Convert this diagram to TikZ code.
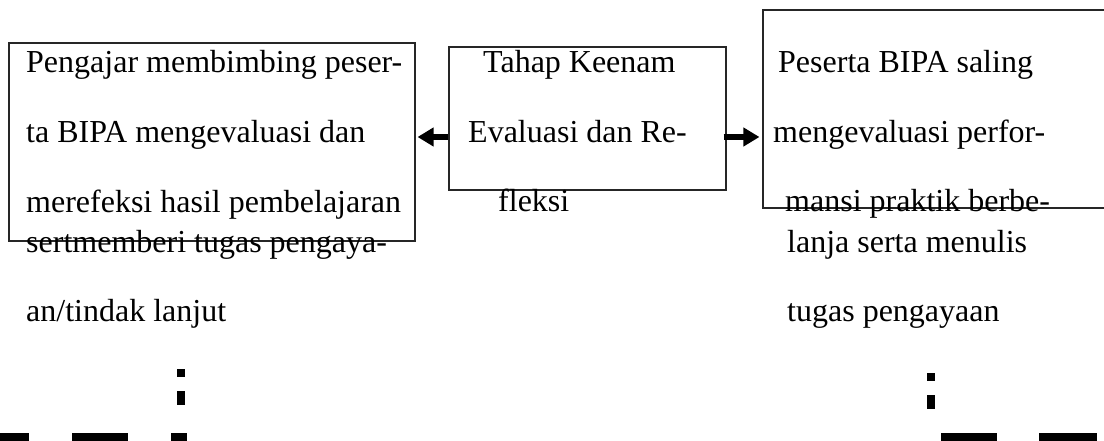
\documentclass[tikz,border=0pt]{standalone}
\usepackage{fontspec}
\setmainfont{Liberation Serif}
\usetikzlibrary{arrows.meta}
\begin{document}
\begin{tikzpicture}[x=1pt,y=1pt,
  box/.style={draw=black!85,line width=1.1pt,inner sep=0pt,anchor=center},
  txt/.style={inner sep=0pt,anchor=base west,font=\fontsize{32}{36}\selectfont},
  arr/.style={line width=6.5pt,-{Triangle[length=16pt,width=18pt]}},
  blk/.style={fill=black,draw=none}]
\useasboundingbox (0,0) rectangle (1104,441);
% boxes
\node[box,minimum width=406pt,minimum height=198pt] (left) at (212,299) {};
\node[box,minimum width=277pt,minimum height=143pt] (mid) at (587.5,322.5) {};
\node[box,minimum width=347pt,minimum height=198pt] (right) at (936.5,332) {};
% left text
\node[txt] (l1) at (26,368) {Pengajar membimbing peser-};
\node[txt] (l2) at (26,298) {ta BIPA mengevaluasi dan};
\node[txt] (l3) at (26,228) {merefeksi hasil pembelajaran};
\node[txt] (l4) at (26,188) {sertmemberi tugas pengaya-};
\node[txt] (l5) at (26,119) {an/tindak lanjut};
% middle text
\node[txt] (m1) at (483,368) {Tahap Keenam};
\node[txt] (m2) at (468,298) {Evaluasi dan Re-};
\node[txt] (m3) at (498,229) {fleksi};
% right text
\node[txt] (r1) at (778,368) {Peserta BIPA saling};
\node[txt] (r2) at (773,298) {mengevaluasi perfor-};
\node[txt] (r3) at (785,229) {mansi praktik berbe-};
\node[txt] (r4) at (787,188) {lanja serta menulis};
\node[txt] (r5) at (787,119) {tugas pengayaan};
% arrows
\coordinate (ay) at (0,304);
\draw[arr] (mid.west |- ay) -- ([xshift=2pt]left.east |- ay);
\draw[arr] ([xshift=-3pt]mid.east |- ay) -- ([xshift=-3pt]right.west |- ay);
% bottom fragments
\fill[blk] (177,64) rectangle (185,72);
\fill[blk] (177,36) rectangle (185,50);
\fill[blk] (0,0) rectangle (29,8);
\fill[blk] (72,0) rectangle (128,8);
\fill[blk] (171,0) rectangle (187,8);
\fill[blk] (927,60) rectangle (935,68);
\fill[blk] (927,32) rectangle (935,46);
\fill[blk] (941,0) rectangle (997,8);
\fill[blk] (1039,0) rectangle (1097,8);
\end{tikzpicture}
\end{document}
